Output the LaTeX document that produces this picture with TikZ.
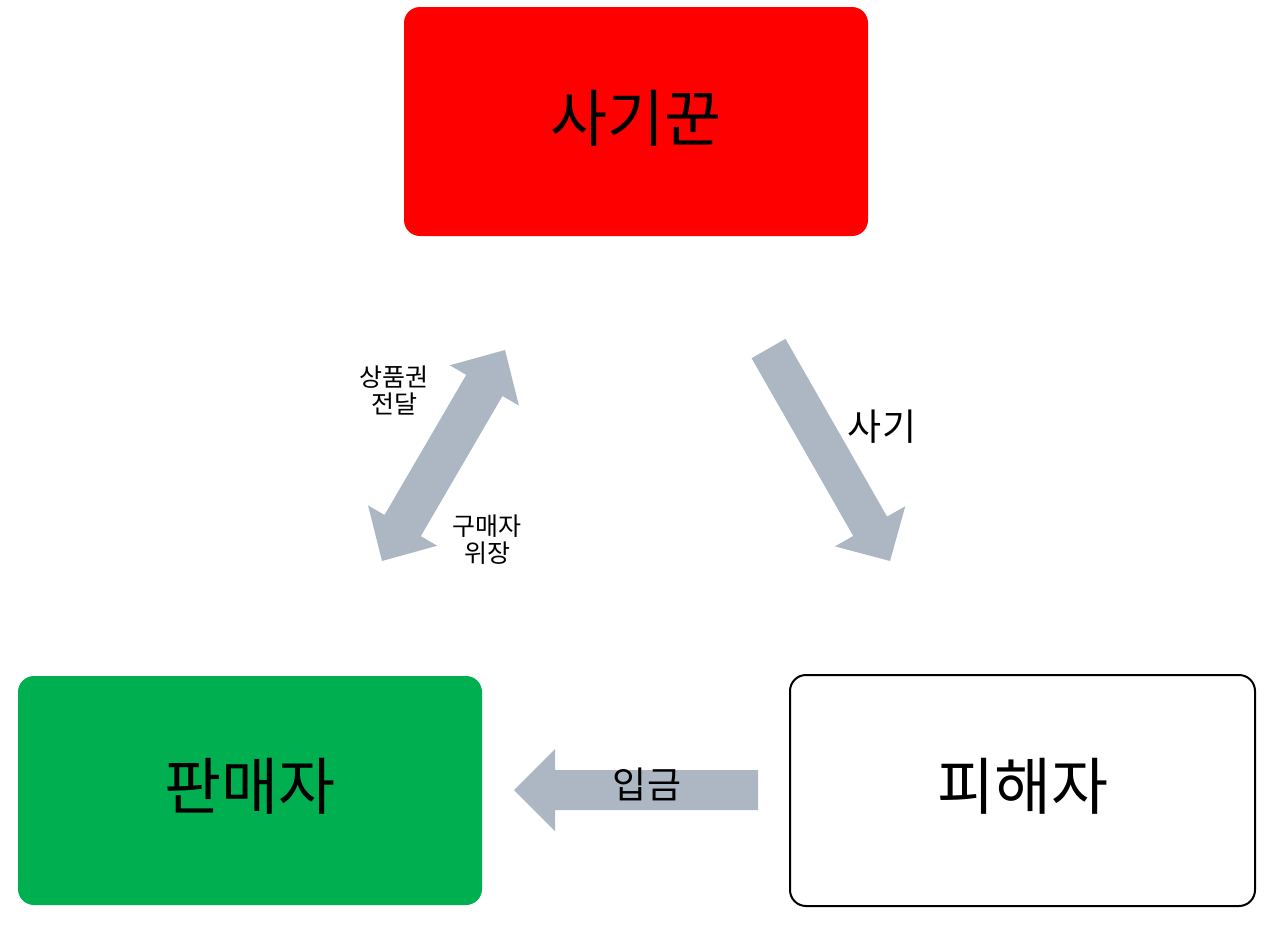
\documentclass[tikz,border=0pt]{standalone}
\usepackage{fontspec}
\setmainfont{Noto Sans CJK KR}
\usetikzlibrary{calc}
\definecolor{arrowgray}{RGB}{172,183,195}
\definecolor{boxred}{RGB}{255,0,0}
\definecolor{boxgreen}{RGB}{0,176,80}
\tikzset{
  party/.style={rectangle, rounded corners=16pt, inner sep=0pt, font=\fontsize{62}{70}\selectfont},
  biglabel/.style={inner sep=0pt, font=\fontsize{37}{42}\selectfont},
  smalllabel/.style={inner sep=0pt, align=center, font=\fontsize{25}{27}\selectfont},
}
% single block arrow: #1 tail, #2 apex, #3 shaft half width, #4 head half width, #5 head length
\newcommand\mysinglearrow[5]{%
  \coordinate (sH) at ($(#2)!#5!(#1)$);
  \fill[arrowgray] ($(#1)!#3!90:(#2)$) -- ($(sH)!#3!90:(#2)$) -- ($(sH)!#4!90:(#2)$) -- (#2)
    -- ($(sH)!#4!-90:(#2)$) -- ($(sH)!#3!-90:(#2)$) -- ($(#1)!#3!-90:(#2)$) -- cycle;
}
% double block arrow: #1 apex A, #2 apex B, #3 shaft half, #4 head half, #5 head length
\newcommand\mydoublearrow[5]{%
  \coordinate (dA) at ($(#1)!#5!(#2)$);
  \coordinate (dB) at ($(#2)!#5!(#1)$);
  \fill[arrowgray] (#1) -- ($(dA)!#4!90:(#1)$) -- ($(dA)!#3!90:(#1)$) -- ($(dB)!#3!90:(#1)$)
    -- ($(dB)!#4!90:(#1)$) -- (#2) -- ($(dB)!#4!-90:(#1)$) -- ($(dB)!#3!-90:(#1)$)
    -- ($(dA)!#3!-90:(#1)$) -- ($(dA)!#4!-90:(#1)$) -- cycle;
}
\begin{document}
\begin{tikzpicture}[x=1pt,y=-1pt]
\useasboundingbox (0,0) rectangle (1280,940);
% boxes
\node[party, fill=boxred, minimum width=464pt, minimum height=229pt] (fraud) at (636,121.5) {};
\node[party, fill=boxgreen, minimum width=464pt, minimum height=229pt] (seller) at (250,790.5) {};
\node[party, draw=black, line width=2pt, fill=white, minimum width=465pt, minimum height=231pt] (victim) at (1022.5,790.5) {};
\node[party] (fraudtxt) at (636,118) {사기꾼};
\node[party] (sellertxt) at (250,786) {판매자};
\node[party] (victimtxt) at (1023,786) {피해자};
% arrow end points
\coordinate (fraudTail) at (768.5,348.5);
\coordinate (fraudTip) at (890,561);
\coordinate (payTail) at (758,790);
\coordinate (payTip) at (514,790);
\coordinate (giftTop) at (505,350);
\coordinate (giftBot) at (382,561);
% arrows
\mysinglearrow{fraudTail}{fraudTip}{19.5pt}{40.5pt}{40pt}
\mysinglearrow{payTail}{payTip}{20pt}{41pt}{41pt}
\mydoublearrow{giftTop}{giftBot}{21pt}{40pt}{41pt}
% labels
\node[biglabel] (fraudlbl) at (882,427) {사기};
\node[biglabel] (paylbl) at (647,784) {입금};
\node[smalllabel] (giftlbl) at (394,390) {상품권\\전달};
\node[smalllabel] (buyerlbl) at (487,540) {구매자\\위장};
\end{tikzpicture}
\end{document}
